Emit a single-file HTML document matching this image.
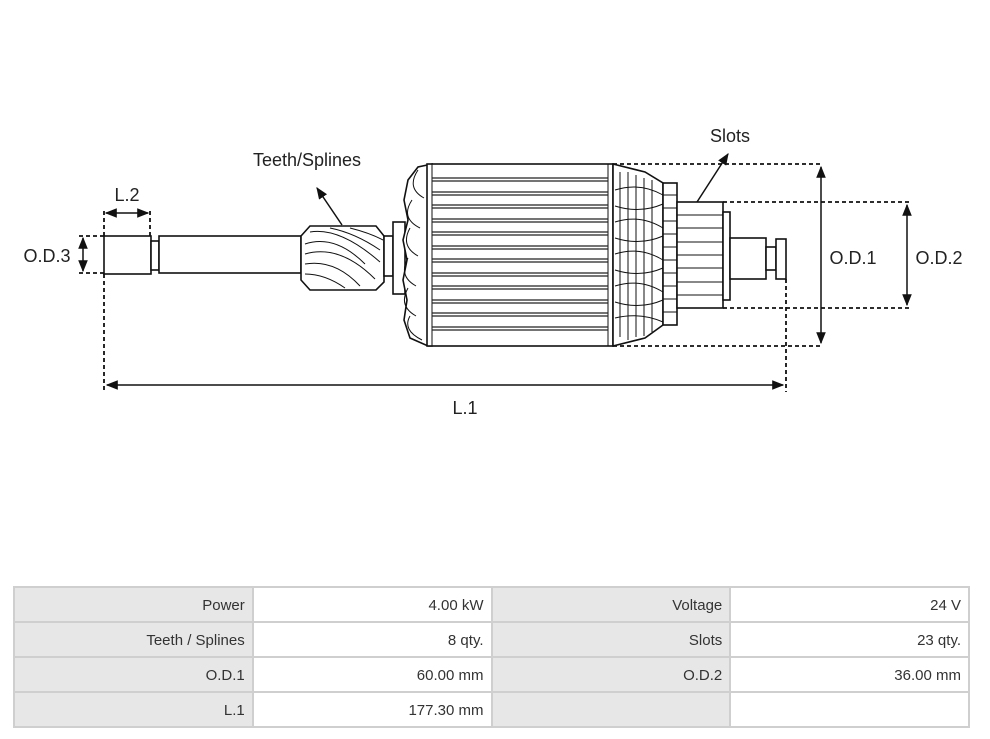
<!DOCTYPE html>
<html><head><meta charset="utf-8"><style>
html,body{margin:0;padding:0;background:#fff;width:990px;height:739px;overflow:hidden;position:relative;font-family:"Liberation Sans",sans-serif}
svg{position:absolute;left:0;top:0}
table{position:absolute;left:13px;top:586px;border-collapse:collapse;width:957px;table-layout:fixed}
td{border:2px solid #cfcfcf;height:33px;padding:2px 7px 0 0;box-sizing:border-box;text-align:right;font-size:15px;color:#333}
tr{height:35px}
td.g{background:#e7e7e7}
td.w{background:#fff}
</style></head><body>
<svg width="990" height="739" viewBox="0 0 990 739">
<defs>
<marker id="a" viewBox="0 0 10 10" refX="9" refY="5" markerWidth="8" markerHeight="8" orient="auto-start-reverse"><path d="M0,1 L10,5 L0,9 z" fill="#111"/></marker>
</defs>
<g fill="#fff" stroke="#111" stroke-width="1.6">
<rect x="104" y="236" width="47" height="38"/>
<rect x="151" y="241" width="8" height="29"/>
<rect x="159" y="236" width="142" height="37"/>
<path d="M310,226 L376,226 L384,236 L384,282 L376,290 L310,290 L301,280 L301,236 z"/>
<rect x="384" y="236" width="9" height="40"/>
<rect x="393" y="222" width="12" height="72"/>
<path d="M432,164 L418,167 L408,180 L404,200 L408,220 L403,240 L407,260 L403,280 L407,300 L404,320 L410,338 L428,346 L432,346 z"/>
<rect x="427" y="164" width="186" height="182"/>
<path d="M613,164 L645,172 L663,183 L663,325 L645,338 L613,346 z"/>
<rect x="663" y="183" width="14" height="142"/>
<rect x="677" y="202" width="46" height="106"/>
<rect x="723" y="212" width="7" height="88"/>
<rect x="730" y="238" width="36" height="41"/>
<rect x="766" y="247" width="10" height="23"/>
<rect x="776" y="239" width="10" height="40"/>
</g>
<g stroke="#111" stroke-width="1" fill="none">
<line x1="432" y1="164" x2="432" y2="346"/>
<line x1="608" y1="164" x2="608" y2="346"/>
<path d="M305,244 q30,-10 60,20 M305,254 q35,-10 70,25 M305,264 q30,-5 55,22 M310,232 q30,-5 70,30 M330,228 q25,5 50,22 M305,274 q20,0 40,14 M350,228 q20,5 33,12"/>
<path d="M418,170 q-12,18 6,28 M412,200 q-12,18 8,28 M410,228 q-10,18 8,28 M408,258 q-10,18 8,28 M408,288 q-10,18 8,28 M410,316 q-8,14 12,24"/>
<path d="M620,172 l0,165 M628,172 l0,168 M636,175 l0,162 M644,178 l0,158 M652,180 l0,152"/>
<path d="M615,190 q25,-8 48,5 M615,206 q25,8 48,-2 M615,222 q25,-8 48,6 M615,238 q25,8 48,-2 M615,254 q25,-8 48,6 M615,270 q25,8 48,-2 M615,286 q25,-8 48,6 M615,302 q25,8 48,-2 M615,318 q25,-6 48,4"/>
<path d="M663,195 h14 M663,208 h14 M663,221 h14 M663,234 h14 M663,247 h14 M663,260 h14 M663,273 h14 M663,286 h14 M663,299 h14 M663,312 h14"/>
<path d="M677,215 h46 M677,228 h46 M677,242 h46 M677,255 h46 M677,268 h46 M677,282 h46 M677,295 h46"/>
</g>
<g stroke="#222" stroke-width="1.3">
<path d="M432,178 h176 M432,181 h176 M432,192 h176 M432,195 h176 M432,205 h176 M432,208 h176 M432,219 h176 M432,222 h176 M432,232 h176 M432,235 h176 M432,246 h176 M432,249 h176 M432,259 h176 M432,262 h176 M432,273 h176 M432,276 h176 M432,286 h176 M432,289 h176 M432,300 h176 M432,303 h176 M432,313 h176 M432,316 h176 M432,327 h176 M432,330 h176"/>
</g>
<g stroke="#111" stroke-width="1.8" stroke-dasharray="4,3" fill="none">
<path d="M613,164 H823 M613,346 H823 M723,202 H910 M723,308 H910 M786,279 V392 M104,274 V392 M104,211 V236 M150,211 V236 M79,236 H104 M79,273 H104"/>
</g>
<g stroke="#111" stroke-width="1.5" fill="none">
<line x1="821" y1="167" x2="821" y2="343" marker-start="url(#a)" marker-end="url(#a)"/>
<line x1="907" y1="205" x2="907" y2="305" marker-start="url(#a)" marker-end="url(#a)"/>
<line x1="107" y1="385" x2="783" y2="385" marker-start="url(#a)" marker-end="url(#a)"/>
<line x1="106" y1="213" x2="148" y2="213" marker-start="url(#a)" marker-end="url(#a)"/>
<line x1="83" y1="238" x2="83" y2="271" marker-start="url(#a)" marker-end="url(#a)"/>
<line x1="342" y1="225" x2="317" y2="188" marker-end="url(#a)"/>
<line x1="697" y1="202" x2="728" y2="154" marker-end="url(#a)"/>
</g>
<g font-family="Liberation Sans,sans-serif" font-size="18" fill="#222">
<text x="307" y="166" text-anchor="middle">Teeth/Splines</text>
<text x="730" y="142" text-anchor="middle">Slots</text>
<text x="127" y="201" text-anchor="middle">L.2</text>
<text x="47" y="262" text-anchor="middle">O.D.3</text>
<text x="853" y="264" text-anchor="middle">O.D.1</text>
<text x="939" y="264" text-anchor="middle">O.D.2</text>
<text x="465" y="414" text-anchor="middle">L.1</text>
</g>
</svg>
<table>
<tr><td class="g">Power</td><td class="w">4.00 kW</td><td class="g">Voltage</td><td class="w">24 V</td></tr>
<tr><td class="g">Teeth / Splines</td><td class="w">8 qty.</td><td class="g">Slots</td><td class="w">23 qty.</td></tr>
<tr><td class="g">O.D.1</td><td class="w">60.00 mm</td><td class="g">O.D.2</td><td class="w">36.00 mm</td></tr>
<tr><td class="g">L.1</td><td class="w">177.30 mm</td><td class="g"></td><td class="w"></td></tr>
</table>
</body></html>
